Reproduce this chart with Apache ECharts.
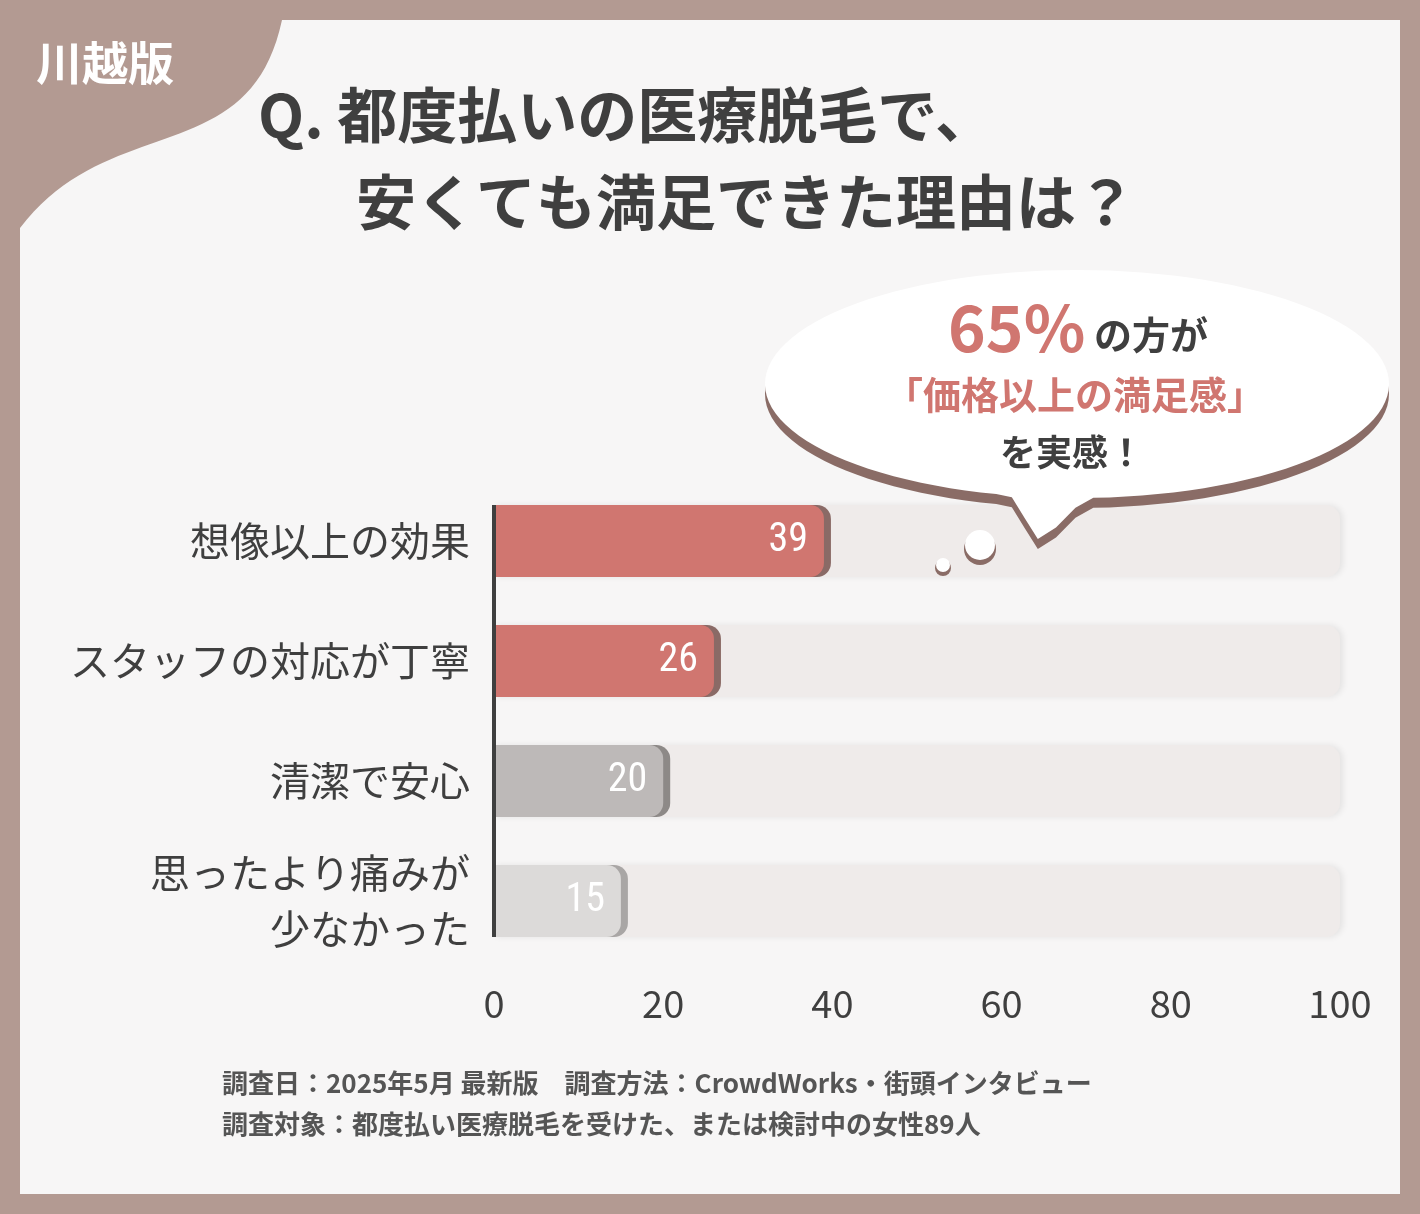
<!DOCTYPE html>
<html><head><meta charset="utf-8">
<script src="https://cdn.jsdelivr.net/npm/echarts@6/dist/echarts.min.js"></script>
<style>html,body{margin:0;padding:0;background:#b39a92}#c{width:1420px;height:1214px}</style>
</head><body><div id="c"></div>
<script>
// データ
const categories = ['想像以上の効果', 'スタッフの対応が丁寧', '清潔で安心', '思ったより痛みが\n少なかった'];
const values = [39, 26, 20, 15];
const barColors = ['#d07670', '#d07670', '#bdb9b8', '#dcdad9'];
const shadowColors = ['#8a6a66', '#8a6a66', '#8d8987', '#a9a6a5'];
const xTicks = [0, 20, 40, 60, 80, 100];

const font = '"Noto Sans CJK JP", "Noto Sans", sans-serif';

// 吹き出し形状
function bubblePoints(cx, cy, rx, ry) {
  let pts = [];
  for (let i = 0; i <= 120; i++) {
    let a = Math.PI * 2 * i / 120;
    let x = cx + rx * Math.cos(a), y = cy + ry * Math.sin(a);
    // しっぽ
    let d = Math.abs(a - Math.PI * 0.53);
    if (d < 0.12) { y += (0.12 - d) * 380; x -= (0.12 - d) * 60; }
    pts.push([x, y]);
  }
  return pts;
}
// 左上の飾り
function cornerPoints() {
  let pts = [[20, 20], [282, 20]];
  let p0 = [282, 20], c1 = [250, 170], c2 = [110, 110], p3 = [20, 228];
  for (let i = 1; i <= 40; i++) {
    let t = i / 40, u = 1 - t;
    pts.push([
      u*u*u*p0[0] + 3*u*u*t*c1[0] + 3*u*t*t*c2[0] + t*t*t*p3[0],
      u*u*u*p0[1] + 3*u*u*t*c1[1] + 3*u*t*t*c2[1] + t*t*t*p3[1]
    ]);
  }
  return pts;
}

const chart = echarts.init(document.getElementById('c'));
chart.setOption({
  backgroundColor: '#b39a92',
  animation: false,
  grid: { left: 494, right: 80, top: 481, height: 480, containLabel: false },
  xAxis: {
    type: 'value', min: 0, max: 100, interval: 20,
    axisLine: { show: false }, axisTick: { show: false }, splitLine: { show: false },
    axisLabel: { color: '#3f3f3f', fontSize: 38, fontFamily: font, margin: 24,
      formatter: v => xTicks.includes(v) ? String(v) : '' }
  },
  yAxis: {
    type: 'category', data: categories, inverse: true,
    axisLine: { show: false },
    axisTick: { show: false },
    axisLabel: { color: '#3f3f3f', fontSize: 40, fontFamily: font, margin: 24, lineHeight: 56, align: 'right',
      rich: {} , letterSpacing: 3 }
  },
  series: [
    {
      type: 'bar', data: categories.map(() => 100), barWidth: 72, barGap: '-100%',
      itemStyle: { color: '#efebea', borderRadius: [0, 14, 14, 0], shadowColor: 'rgba(0,0,0,0.08)', shadowBlur: 6, shadowOffsetX: 3 },
      silent: true, z: 1
    },
    {
      type: 'bar', barWidth: 72, z: 2,
      data: values.map((v, i) => ({
        value: v,
        itemStyle: { color: barColors[i], borderRadius: [0, 14, 14, 0], shadowColor: shadowColors[i], shadowBlur: 0, shadowOffsetX: 7 }
      })),
      label: { show: true, position: 'insideRight', distance: 16, color: '#fff', fontSize: 40, fontFamily: '"Roboto Condensed", "DejaVu Sans Condensed", sans-serif' }
    }
  ],
  graphic: [
    { type: 'rect', shape: { x: 20, y: 20, width: 1380, height: 1174 }, style: { fill: '#f7f6f6' }, z: -10 },
    { type: 'polygon', shape: { points: cornerPoints() }, style: { fill: '#b39a92' }, z: -5 },
    { type: 'line', shape: { x1: 494, y1: 505, x2: 494, y2: 937 }, style: { stroke: '#3f3f3f', lineWidth: 4 }, z: 10 },
    { type: 'text', left: 36, top: 40, style: { text: '川越版', fill: '#fff', font: 'bold 46px ' + font, letterSpacing: 2 } },
    { type: 'text', left: 258, top: 85, style: { text: 'Q. 都度払いの医療脱毛で、', fill: '#3f3f3f', font: 'bold 60px ' + font, letterSpacing: 10 } },
    { type: 'text', left: 356, top: 172, style: { text: '安くても満足できた理由は？', fill: '#3f3f3f', font: 'bold 60px ' + font, letterSpacing: 12 } },
    { type: 'polygon', shape: { points: bubblePoints(1077, 394, 312, 114) }, style: { fill: '#8a6c66' }, z: 5 },
    { type: 'polygon', shape: { points: bubblePoints(1077, 384, 312, 114) }, style: { fill: '#ffffff' }, z: 6 },
    { type: 'circle', shape: { cx: 980, cy: 549, r: 16 }, style: { fill: '#8a6c66' }, z: 5 },
    { type: 'circle', shape: { cx: 980, cy: 545, r: 15 }, style: { fill: '#fff' }, z: 6 },
    { type: 'circle', shape: { cx: 943, cy: 568, r: 8 }, style: { fill: '#8a6c66' }, z: 5 },
    { type: 'circle', shape: { cx: 943, cy: 565, r: 7 }, style: { fill: '#fff' }, z: 6 },
    { type: 'text', x: 1078, y: 328, z: 7, style: { text: '{a|65%}{b| の方が}', align: 'center', verticalAlign: 'middle',
      rich: { a: { fill: '#d07670', font: 'bold 64px ' + font }, b: { fill: '#3f3f3f', font: 'bold 38px ' + font, padding: [14, 0, 0, 0] } } } },
    { type: 'text', x: 1075, y: 395, z: 7, style: { text: '「価格以上の満足感」', align: 'center', verticalAlign: 'middle', fill: '#d07670', font: 'bold 38px ' + font } },
    { type: 'text', x: 1072, y: 452, z: 7, style: { text: 'を実感！', align: 'center', verticalAlign: 'middle', fill: '#3f3f3f', font: 'bold 36px ' + font, letterSpacing: 4 } },
    { type: 'text', left: 222, top: 1070, style: { text: '調査日：2025年5月 最新版　調査方法：CrowdWorks・街頭インタビュー', fill: '#555', font: 'bold 26px ' + font, letterSpacing: 1.6 } },
    { type: 'text', left: 222, top: 1111, style: { text: '調査対象：都度払い医療脱毛を受けた、または検討中の女性89人', fill: '#555', font: 'bold 26px ' + font, letterSpacing: 1.6 } }
  ]
});
</script>
</body></html>
